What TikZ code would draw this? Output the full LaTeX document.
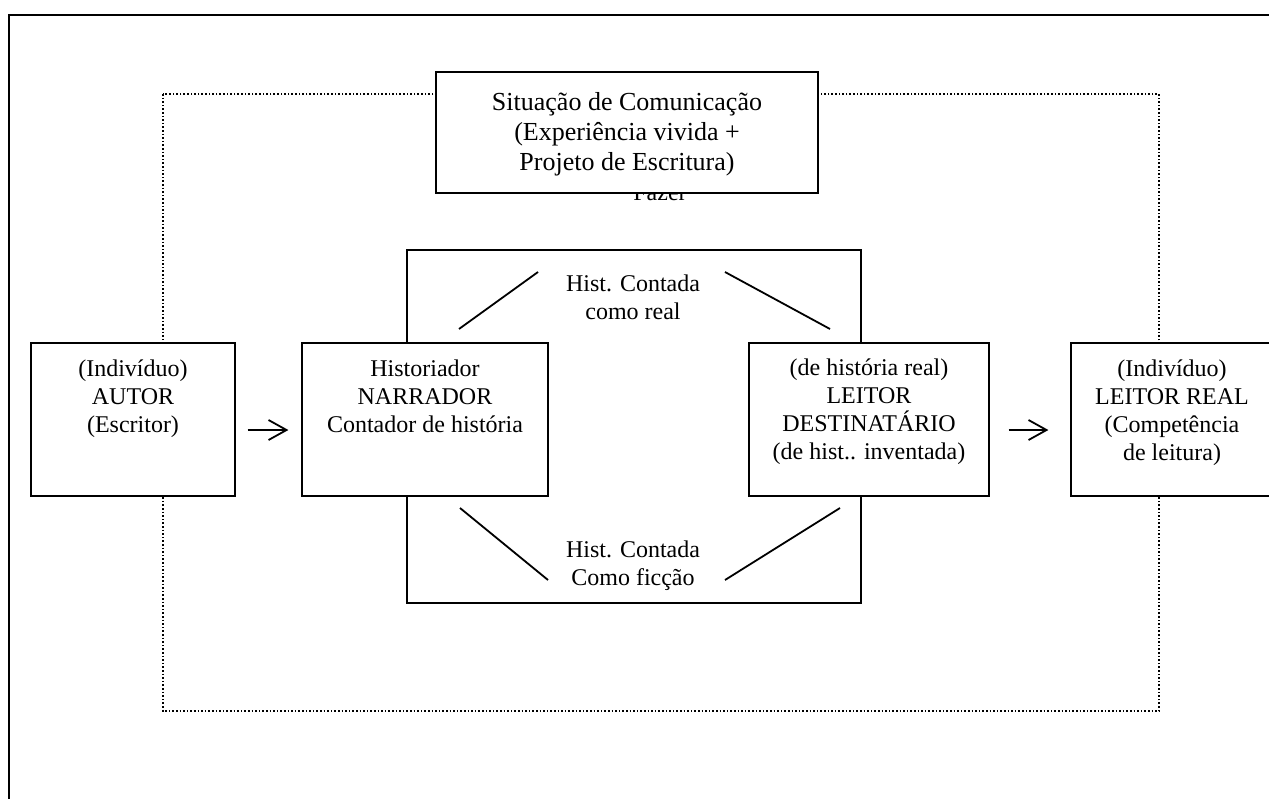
\documentclass[tikz,border=0pt]{standalone}
\usepackage{fontspec}
\setmainfont{Liberation Serif}
\usetikzlibrary{arrows.meta}

\newcommand{\caixatexto}[4][7pt]{\parbox[c][#3][t]{#2}{\centering\vspace*{#1}\strut #4}}

\begin{document}
\begin{tikzpicture}[x=0.5pt,y=-0.5pt,
    font=\fontsize{12}{14}\selectfont,
    caixa/.style={draw,fill=white,line width=0.6pt,inner sep=0pt},
    seta/.style={-{Straight Barb[length=9pt,width=10pt]},line width=0.9pt},
    traco/.style={line width=0.9pt}]

    \clip (0,0) rectangle (1269,798);

    % moldura externa e situacao (pontilhado)
    \draw[line width=1.4pt] (1280,15) -- (9,15) -- (9,810);
    \draw[densely dotted,line width=0.8pt] (163,94) rectangle (1159,711);

    % quadro central
    \node[draw,line width=0.9pt,minimum width=227pt,minimum height=176.5pt,inner sep=0pt] (quadro) at (634,426.5) {};

    \node[anchor=base] (fazer) at (660,200) {Fazer};
    \node[caixa,line width=0.7pt] (situacao) at (627,132.5) {\fontsize{13}{15}\selectfont\caixatexto[8.5pt]{191pt}{60.5pt}{Situação de Comunicação\\(Experiência vivida +\\Projeto de Escritura)}};

    \node[caixa] (autor) at (133,419.5) {\caixatexto{102pt}{76.5pt}{(Indivíduo)\\AUTOR\\(Escritor)}};
    \node[caixa] (narrador) at (425,419.5) {\caixatexto{123pt}{76.5pt}{Historiador\\NARRADOR\\Contador de história}};
    \node[caixa] (destinatario) at (869,419.5) {\caixatexto[6.5pt]{120pt}{76.5pt}{(de história real)\\LEITOR\\DESTINATÁRIO\\(de hist.. inventada)}};
    \node[caixa] (leitor) at (1172,419.5) {\caixatexto{101pt}{76.5pt}{(Indivíduo)\\LEITOR REAL\\(Competência\\de leitura)}};

    \node[align=center] (real) at (633,297) {Hist. Contada\\como real};
    \node[align=center] (ficcao) at (633,566) {Hist. Contada\\Como ficção};

    \coordinate (r1) at (459,329);
    \coordinate (r2) at (538,272);
    \coordinate (r3) at (725,272);
    \coordinate (r4) at (830,329);
    \coordinate (f1) at (460,508);
    \coordinate (f2) at (548,580);
    \coordinate (f3) at (725,580);
    \coordinate (f4) at (840,508);
    \draw[traco] (r1) -- (r2);
    \draw[traco] (r3) -- (r4);
    \draw[traco] (f1) -- (f2);
    \draw[traco] (f3) -- (f4);

    \draw[seta,shorten <=6pt,shorten >=6.5pt] ([yshift=-5.25pt]autor.east) -- ([yshift=-5.25pt]narrador.west);
    \draw[seta,shorten <=9.5pt,shorten >=11pt] ([yshift=-5.25pt]destinatario.east) -- ([yshift=-5.25pt]leitor.west);
\end{tikzpicture}
\end{document}
